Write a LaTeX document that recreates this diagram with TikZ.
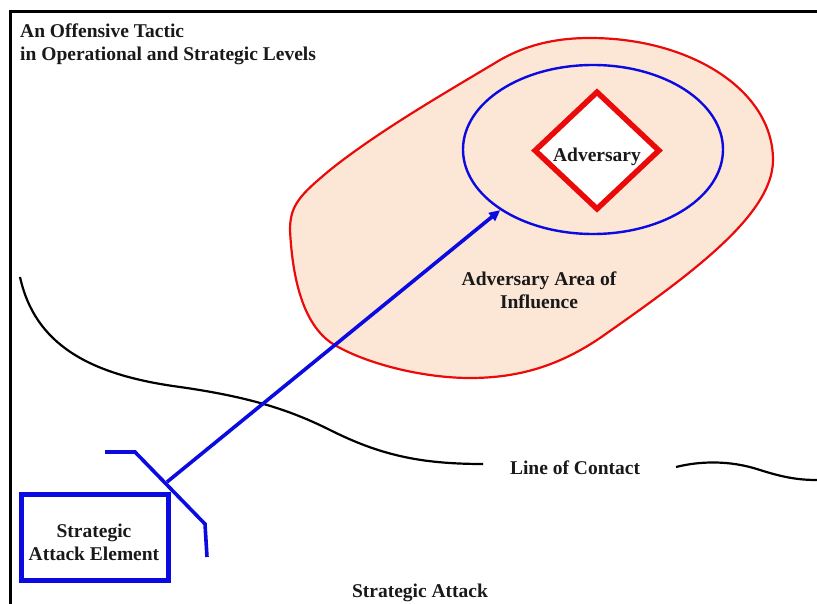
\documentclass[tikz,border=0pt]{standalone}
\usepackage{fontspec}
\setmainfont{Liberation Serif}
\usetikzlibrary{shapes.geometric,arrows.meta}
\definecolor{peach}{RGB}{252,230,214}
\definecolor{myred}{RGB}{235,10,10}
\definecolor{myblue}{RGB}{10,10,225}
\tikzset{
  lbl/.style={font=\fontsize{19.5}{23}\selectfont\bfseries, align=center, inner sep=0pt, text=black!90},
  bluethin/.style={myblue, line width=3.6pt},
  contact/.style={line width=2.2pt},
}
\begin{document}
\begin{tikzpicture}[x=1pt,y=-1pt]
\useasboundingbox (0,0) rectangle (817,604);
% frame
\draw[line width=3pt] (10.5,604) -- (10.5,11.5) -- (817,11.5);
% title
\node[lbl, align=left, anchor=west] (title) at (20,44) {An Offensive Tactic\\in Operational and Strategic Levels};
% area of influence
\draw[myred, line width=2.2pt, fill=peach]
  (590,38) .. controls (690,38) and (773,90) .. (773,160)
  .. controls (773,215) and (690,275) .. (600,338)
  .. controls (560,365) and (520,378) .. (470,378)
  .. controls (420,378) and (360,362) .. (330,342)
  .. controls (300,320) and (292,270) .. (290,230)
  .. controls (290,205) and (300,195) .. (330,170)
  .. controls (380,130) and (450,90) .. (500,60)
  .. controls (530,43) and (560,38) .. (590,38) -- cycle;
\node[lbl] (area) at (539,290) {Adversary Area of\\Influence};
% line of contact
\draw[contact] (20,277) .. controls (35,345) and (90,375) .. (180,387)
  .. controls (250,397) and (290,410) .. (330,430)
  .. controls (380,455) and (420,464) .. (483,464);
\draw[contact] (676,467) .. controls (700,461) and (730,460) .. (760,470)
  .. controls (785,478) and (800,480) .. (817,480);
\node[lbl] (loc) at (575,468) {Line of Contact};
% adversary
\node[ellipse, draw=myblue, line width=2.4pt, minimum width=260pt, minimum height=169pt, inner sep=0pt] (infl) at (593,149.5) {};
\node[diamond, draw=myred, fill=white, line width=5.5pt, minimum width=126pt, minimum height=119pt, inner sep=0pt] (adv) at (597,150.5) {};
\node[lbl] (advtext) at (597,156.5) {Adversary};
% strategic attack element
\node[draw=myblue, line width=5.5pt, minimum width=147pt, minimum height=86pt, inner sep=0pt] (sae) at (95,537.5) {};
\node[lbl] (saetext) at (94,542) {Strategic\\Attack Element};
\coordinate (kink1) at (105,452);
\coordinate (kink2) at (135,452);
\coordinate (kink3) at (205,524);
\coordinate (kink4) at (207,557);
\draw[bluethin, line join=miter] (kink1) -- (kink2) -- (kink3) -- (kink4);
\coordinate (start) at (167,482);
\draw[bluethin, -{Triangle[length=11pt,width=10pt]}] (start) -- (infl.south west);
% caption
\node[lbl] (cap) at (420,593) {Strategic Attack};
\end{tikzpicture}
\end{document}
